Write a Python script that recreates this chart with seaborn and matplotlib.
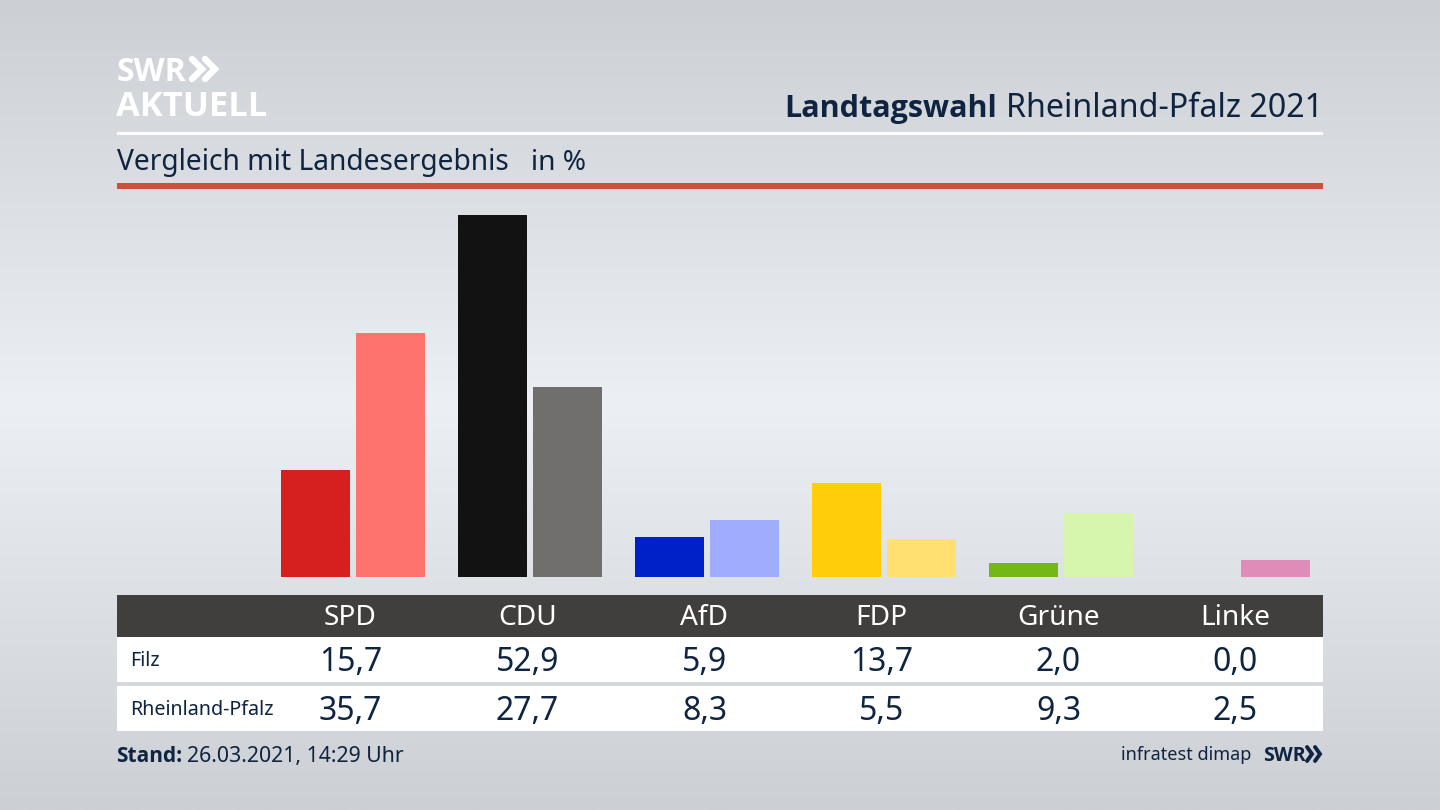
import numpy as np
import pandas as pd
import seaborn as sns
import matplotlib.pyplot as plt
from matplotlib.patches import Rectangle

# Values
parties = ["SPD", "CDU", "AfD", "FDP", "Grüne", "Linke"]
filz = [15.7, 52.9, 5.9, 13.7, 2.0, 0.0]
landesweit = [35.7, 27.7, 8.3, 5.5, 9.3, 2.5]
row_names = ["Filz", "Rheinland-Pfalz"]
colors_filz = ["#d61f1f", "#121212", "#0020c8", "#ffcd0a", "#74b816", "#e08cb8"]
colors_land = ["#ff736e", "#706f6d", "#9fadff", "#ffe070", "#d5f6ac", "#e08cb8"]

NAVY = "#0f2440"
BOLD = ["Open Sans", "DejaVu Sans"]
W, H = 1440, 810

sns.set_theme(style="white")
plt.rcParams["font.family"] = ["Noto Sans", "DejaVu Sans"]

fig = plt.figure(figsize=(14.4, 8.1), dpi=100)

# full-size axes in pixel coordinates for background, header and table
bg = fig.add_axes([0, 0, 1, 1])
bg.set_xlim(0, W)
bg.set_ylim(H, 0)
bg.axis("off")
shade = np.interp(np.linspace(0, 1, 400), [0, 0.5, 1], [0.80, 0.925, 0.80])
grad = np.stack([shade, shade + 0.012, shade + 0.028], axis=1)[:, None, :].clip(0, 1)
bg.imshow(grad, extent=[0, W, H, 0], aspect="auto", zorder=0)


def box(x0, y0, x1, y1, color):
    bg.add_patch(Rectangle((x0, y0), x1 - x0, y1 - y0, color=color, lw=0, zorder=1))


# logo
bg.text(117, 81, "SWR", color="white", fontsize=23, fontweight="bold", family=BOLD, va="baseline", zorder=3)
bg.text(116, 116, "AKTUELL", color="white", fontsize=24.8, fontweight="bold", family=BOLD, va="baseline", zorder=3)
for x in (192, 205):
    bg.plot([x, x + 10, x], [59, 69, 79], color="white", lw=4.6, solid_joinstyle="miter", zorder=3)

# title, right aligned, bold part placed in front of the regular part
title = bg.text(1323, 117, "Rheinland-Pfalz 2021", color=NAVY, fontsize=23.2, ha="right", va="baseline", zorder=3)
fig.canvas.draw()
left = title.get_window_extent().x0
bg.text(left - 9, 117, "Landtagswahl", color=NAVY, fontsize=22, fontweight="bold", family=BOLD, ha="right", va="baseline", zorder=3)

box(117, 132, 1323, 135, "white")
bg.text(117, 170, "Vergleich mit Landesergebnis", color=NAVY, fontsize=20.3, va="baseline", zorder=3)
bg.text(531, 170, "in %", color=NAVY, fontsize=20.2, va="baseline", zorder=3)
box(117, 183, 1323, 189, "#cb5138")

# table
box(117, 595, 1323, 637, "#403f3d")
box(117, 637, 1323, 682, "white")
box(117, 686, 1323, 731, "white")
col_x = [350.5 + 177 * i for i in range(len(parties))]
for x, name in zip(col_x, parties):
    bg.text(x, 625, name, color="white", fontsize=20.2, ha="center", va="baseline", zorder=3)
for y, name, vals in zip([667, 716], row_names, [filz, landesweit]):
    bg.text(130, y - 1, name, color=NAVY, fontsize=14.2, va="baseline", zorder=3)
    for x, v in zip(col_x, vals):
        bg.text(x, y + 4, f"{v:.1f}".replace(".", ","), color=NAVY, fontsize=23, ha="center", va="baseline", zorder=3)

# footer
bg.text(116, 762, "Stand:", color=NAVY, fontsize=15, fontweight="bold", family=BOLD, va="baseline", zorder=3)
bg.text(187, 762, "26.03.2021, 14:29 Uhr", color=NAVY, fontsize=15.3, va="baseline", zorder=3)
bg.text(1251, 760, "infratest dimap", color=NAVY, fontsize=13, ha="right", va="baseline", zorder=3)
bg.text(1263, 761, "SWR", color=NAVY, fontsize=14, fontweight="bold", family=BOLD, va="baseline", zorder=3)
for x in (1307, 1315):
    bg.plot([x, x + 5, x], [747, 754, 761], color=NAVY, lw=2.8, solid_joinstyle="miter", zorder=3)

# bars
df = pd.DataFrame({
    "party": parties * 2,
    "wert": filz + landesweit,
    "gebiet": ["Filz"] * 6 + ["Rheinland-Pfalz"] * 6,
})
y_top = 55
px_per_unit = (577 - 215) / 52.9
ax_left, ax_right = 264.5, 1326.5
ax_bottom, ax_top = 577, 577 - y_top * px_per_unit
ax = fig.add_axes([ax_left / W, 1 - ax_bottom / H, (ax_right - ax_left) / W, (ax_bottom - ax_top) / H])
ax.patch.set_alpha(0)
sns.barplot(data=df, x="party", y="wert", hue="gebiet", width=150 / 177, gap=0.08,
            legend=False, saturation=1, ax=ax)
for container, cols in zip(ax.containers, [colors_filz, colors_land]):
    for bar, c in zip(container, cols):
        bar.set_facecolor(c)
        bar.set_edgecolor("none")
ax.set_xlim(-0.5, 5.5)
ax.set_ylim(0, y_top)
ax.axis("off")

fig.savefig("out.png", dpi=100)
